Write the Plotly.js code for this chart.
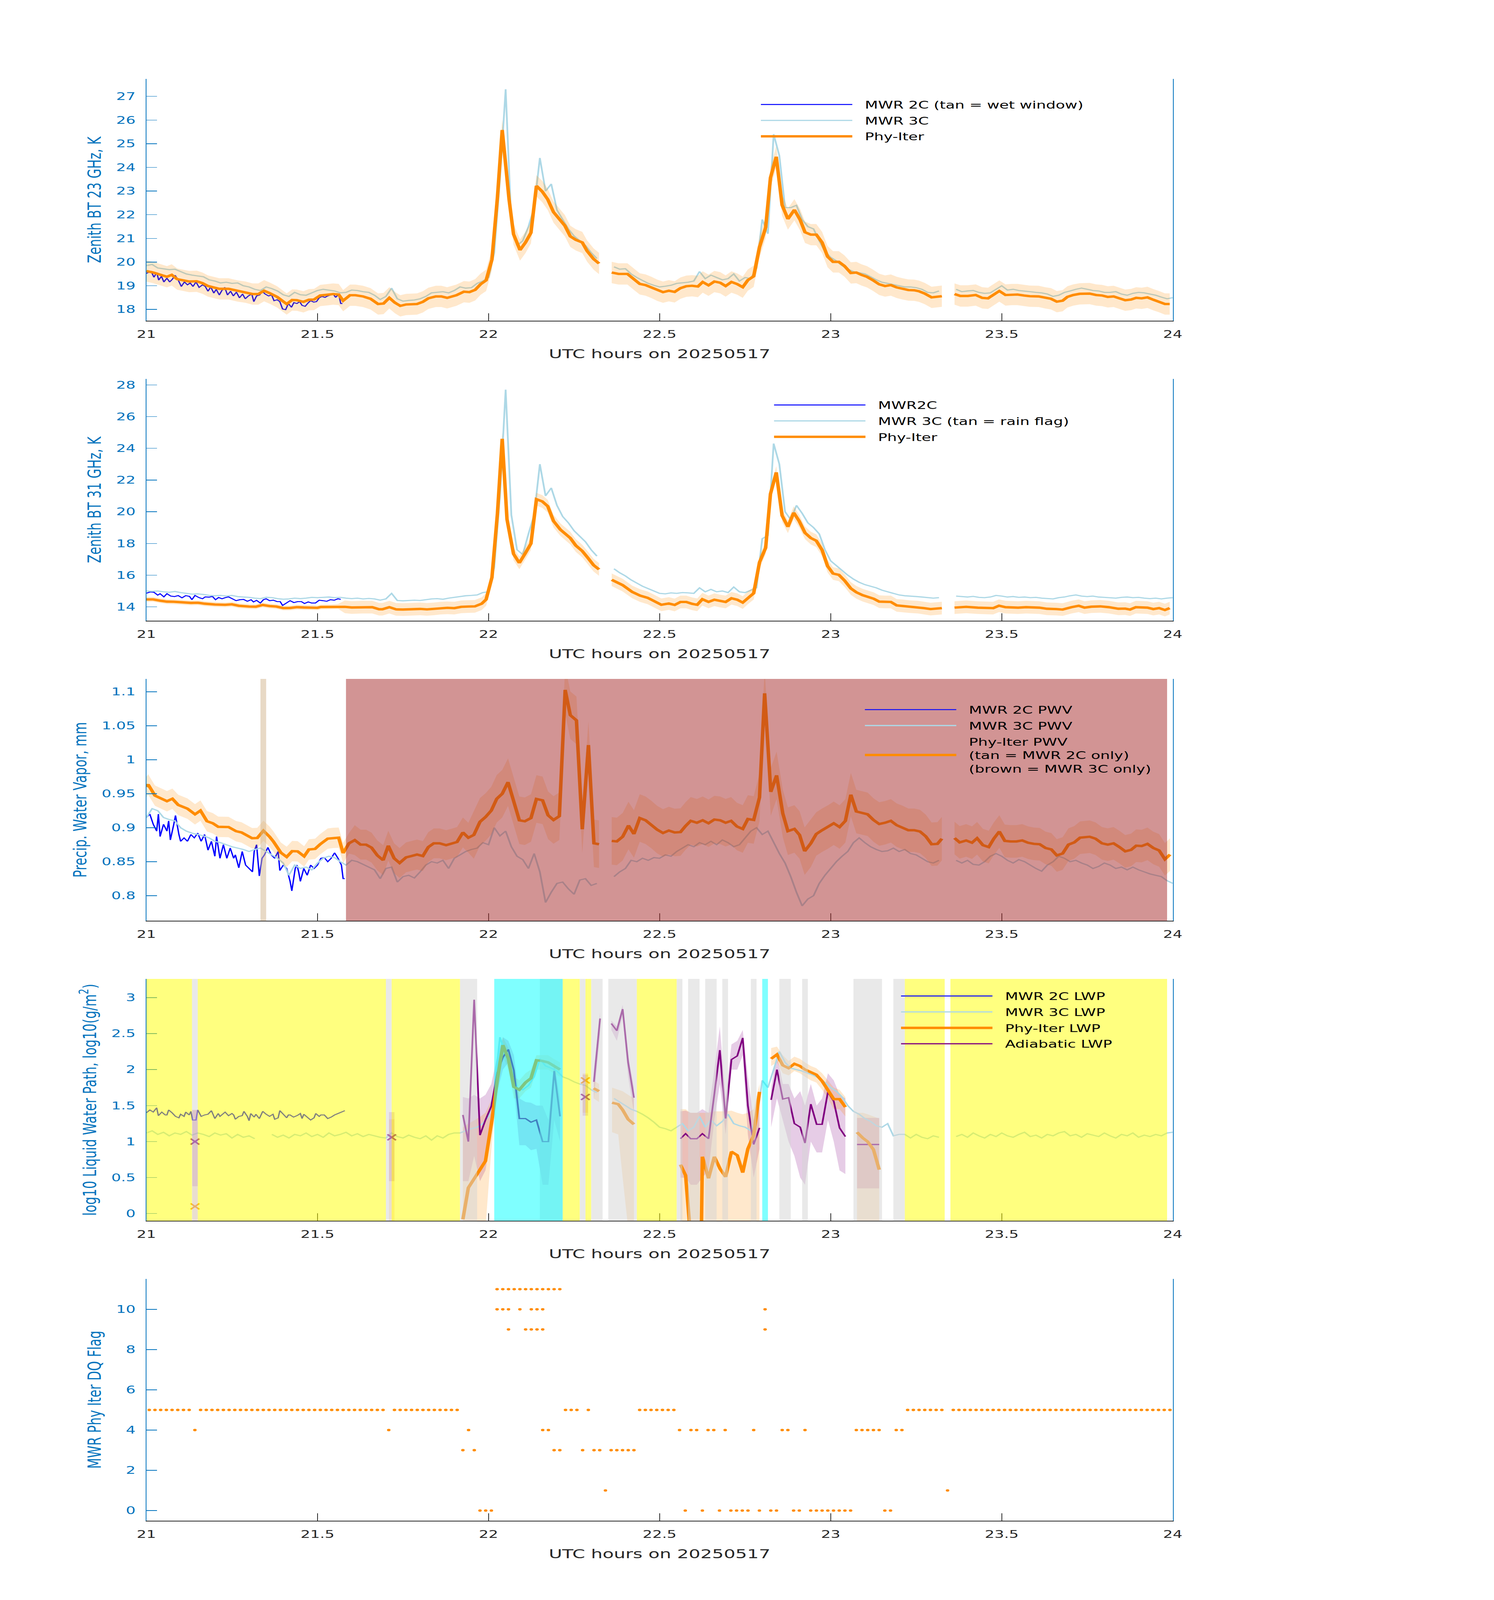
<!DOCTYPE html>
<html>
<head>
<meta charset="utf-8">
<script src="https://cdn.plot.ly/plotly-3.0.1.min.js"></script>
<style>
  html, body { margin: 0; background: #fff; overflow: hidden; }
  #plot { width: 3825px; height: 6000px; transform-origin: 0 0; }
</style>
</head>
<body>
<div id="plot"></div>
<script>
'use strict';

// ---- sampling grid for the 1-minute MWR 3C series (21:00 .. 24:00 UTC)
const minuteT = [];
for (let i = 0; i <= 180; i++) minuteT.push(21 + i / 60);

// ---- panel 1: zenith BT 23 GHz
const bt23TwoT = [21.0,21.005,21.014,21.022,21.03,21.036,21.044,21.051,21.06,21.068,21.076,21.084,21.093,21.102,21.111,21.12,21.128,21.136,21.145,21.154,21.164,21.172,21.18,21.188,21.197,21.204,21.213,21.221,21.229,21.237,21.246,21.254,21.263,21.272,21.281,21.289,21.298,21.308,21.314,21.322,21.331,21.338,21.347,21.357,21.366,21.373,21.382,21.39,21.398,21.407,21.415,21.424,21.431,21.44,21.448,21.455,21.464,21.473,21.48,21.489,21.497,21.505,21.513,21.522,21.53,21.538,21.546,21.553,21.562,21.568,21.573];
const bt23Two = [19.52,19.56,19.6,19.36,19.56,19.24,19.4,19.16,19.32,19.16,19.28,19.44,19.24,18.97,19.16,19.04,19.12,18.97,19.16,18.93,19.04,18.97,18.77,18.95,18.69,18.85,18.61,18.81,18.93,18.61,18.77,18.57,18.73,18.49,18.65,18.45,18.57,18.65,18.33,18.57,18.61,18.77,18.65,18.57,18.61,18.37,18.41,18.33,18.02,17.99,18.25,18.09,18.29,18.25,18.33,18.17,18.13,18.28,18.37,18.31,18.33,18.49,18.55,18.51,18.57,18.61,18.65,18.51,18.65,18.25,18.25];
const bt23Three = [
  19.85,19.9,19.75,19.72,19.68,19.7,19.6,19.5,19.45,19.42,
  19.38,19.25,19.2,19.12,19.15,19.1,19.12,19.0,18.95,18.85,
  18.8,18.95,18.88,18.78,18.62,18.55,18.72,18.62,18.6,18.7,
  18.8,18.85,18.82,18.78,18.7,18.72,18.82,18.8,18.75,18.72,
  18.6,18.42,18.55,18.9,18.45,18.35,18.38,18.4,18.45,18.55,
  18.7,18.72,18.75,18.7,18.8,18.95,18.9,18.92,19.1,19.2,
  19.35,20.4,23.5,27.3,21.6,20.7,20.9,21.5,22.3,24.4,
  23.0,23.3,22.2,21.8,21.4,21.1,20.9,20.7,20.4,20.15,
  null,null,19.8,19.7,19.72,19.5,19.35,19.22,19.1,19.02,
  18.95,18.98,19.02,19.1,19.12,19.15,19.2,19.6,19.3,19.45,
  19.35,19.25,19.3,19.5,19.2,19.35,19.3,19.75,21.8,21.2,
  25.4,24.5,22.3,22.3,22.4,21.8,21.5,21.4,20.9,20.45,
  20.2,20.05,19.85,19.7,19.6,19.55,19.5,19.38,19.25,19.15,
  19.1,19.05,19.0,18.95,18.95,18.92,18.85,18.72,18.7,18.78,
  null,null,18.85,18.75,18.78,18.8,18.72,18.68,18.7,18.85,
  19.0,18.82,18.85,18.8,18.78,18.75,18.72,18.7,18.65,18.55,
  18.6,18.72,18.78,18.85,18.9,18.85,18.8,18.78,18.72,18.72,
  18.75,18.65,18.6,18.68,18.72,18.7,18.65,18.6,18.52,18.45,
  18.5];
const bt23PhyT = [21.0,21.02,21.06,21.074,21.09,21.125,21.147,21.164,21.18,21.213,21.24,21.267,21.29,21.31,21.327,21.344,21.36,21.382,21.41,21.426,21.44,21.459,21.475,21.49,21.508,21.53,21.546,21.562,21.575,21.595,21.611,21.633,21.655,21.677,21.693,21.71,21.726,21.742,21.759,21.791,21.808,21.824,21.846,21.862,21.879,21.906,21.928,21.944,21.961,21.977,21.993,22.01,22.026,22.04,22.054,22.06,22.073,22.092,22.108,22.124,22.14,22.157,22.173,22.19,22.223,22.239,22.255,22.274,22.288,22.307,22.323,
  null,
  22.36,22.38,22.406,22.426,22.442,22.459,22.476,22.493,22.51,22.527,22.544,22.561,22.578,22.595,22.612,22.626,22.643,22.66,22.677,22.693,22.71,22.727,22.743,22.758,22.775,22.792,22.81,22.824,22.841,22.858,22.875,22.894,22.911,22.925,22.942,22.958,22.975,22.991,23.007,23.024,23.04,23.059,23.075,23.09,23.106,23.123,23.142,23.159,23.176,23.193,23.21,23.227,23.244,23.258,23.275,23.295,23.325,
  null,
  23.362,23.379,23.401,23.424,23.443,23.46,23.477,23.493,23.511,23.529,23.546,23.565,23.582,23.608,23.627,23.644,23.661,23.678,23.692,23.709,23.728,23.757,23.776,23.793,23.81,23.827,23.844,23.861,23.878,23.893,23.909,23.926,23.943,23.96,23.977,23.991];
const bt23Phy = [19.62,19.56,19.38,19.46,19.28,19.18,19.19,19.11,18.99,18.87,18.87,18.78,18.73,18.65,18.65,18.79,18.69,18.53,18.23,18.4,18.39,18.32,18.41,18.42,18.59,18.62,18.65,18.63,18.37,18.6,18.6,18.55,18.45,18.23,18.25,18.49,18.29,18.15,18.21,18.23,18.32,18.47,18.55,18.55,18.49,18.6,18.75,18.73,18.83,19.07,19.23,20.11,22.73,25.58,23.53,22.65,21.18,20.51,20.83,21.24,23.22,22.98,22.65,22.11,21.54,21.09,20.94,20.83,20.47,20.13,19.94,
  null,
  19.56,19.5,19.5,19.26,19.08,19.03,18.93,18.81,18.73,18.79,18.74,18.9,18.98,19.0,18.97,19.16,19.02,19.18,19.13,18.99,19.16,19.07,18.94,19.24,19.4,20.63,21.46,23.56,24.45,22.41,21.82,22.21,21.78,21.26,21.16,21.16,20.83,20.23,20.01,20.01,19.84,19.54,19.56,19.46,19.38,19.24,19.06,18.99,19.03,18.93,18.87,18.82,18.81,18.77,18.67,18.51,18.56,
  null,
  18.65,18.57,18.57,18.61,18.49,18.47,18.63,18.78,18.61,18.63,18.63,18.59,18.56,18.55,18.49,18.45,18.33,18.37,18.53,18.61,18.66,18.67,18.61,18.59,18.53,18.55,18.47,18.39,18.42,18.49,18.47,18.51,18.41,18.33,18.23,18.23];
const bt23ErrT = [21.0];
const bt23ErrV = [0.45];

// ---- panel 2: zenith BT 31 GHz
const bt31TwoT = [21.0,21.011,21.022,21.033,21.04,21.051,21.06,21.071,21.082,21.093,21.104,21.115,21.126,21.133,21.142,21.153,21.164,21.172,21.183,21.193,21.202,21.211,21.221,21.229,21.24,21.251,21.262,21.273,21.284,21.295,21.306,21.313,21.322,21.333,21.342,21.35,21.36,21.371,21.382,21.391,21.398,21.409,21.42,21.431,21.442,21.453,21.462,21.473,21.483,21.494,21.505,21.516,21.527,21.538,21.549,21.56,21.568];
const bt31Two = [14.86,14.94,14.92,14.74,14.83,14.63,14.83,14.68,14.65,14.71,14.57,14.71,14.66,14.45,14.72,14.59,14.51,14.63,14.61,14.66,14.45,14.59,14.51,14.57,14.63,14.51,14.39,14.45,14.47,14.35,14.45,14.31,14.41,14.24,14.45,14.51,14.39,14.42,14.33,14.33,14.09,14.24,14.39,14.27,14.33,14.33,14.21,14.31,14.24,14.24,14.42,14.39,14.35,14.45,14.42,14.51,14.47];
const bt31Three = [
  15.0,14.98,15.0,14.95,14.92,14.97,14.9,14.85,14.8,14.82,
  14.78,14.72,14.7,14.72,14.68,14.72,14.65,14.62,14.6,14.55,
  14.52,14.6,14.58,14.52,14.48,14.5,14.55,14.52,14.55,14.6,
  14.58,14.6,14.62,14.58,14.6,14.55,14.52,14.55,14.5,14.53,
  14.5,14.42,14.5,14.85,14.4,14.38,14.4,14.42,14.4,14.45,
  14.5,14.52,14.48,14.55,14.6,14.65,14.7,14.72,14.75,14.9,
  14.95,16.5,21.0,27.7,19.8,17.6,17.3,18.6,19.8,23.0,
  21.0,21.5,20.4,19.7,19.3,18.8,18.45,18.1,17.6,17.2,
  null,null,16.4,16.15,15.95,15.7,15.5,15.3,15.15,15.0,
  14.85,14.82,14.88,14.85,14.9,14.88,14.85,15.2,14.95,15.1,
  14.95,15.0,14.9,15.25,14.95,14.9,15.05,15.2,18.3,18.5,
  24.3,23.0,20.0,19.5,20.4,19.9,19.3,19.0,18.6,17.6,
  16.9,16.6,16.3,16.0,15.75,15.55,15.4,15.3,15.2,15.05,
  14.95,14.85,14.75,14.7,14.68,14.65,14.62,14.58,14.55,14.58,
  null,null,14.68,14.65,14.62,14.66,14.6,14.58,14.62,14.72,
  14.68,14.62,14.65,14.6,14.62,14.58,14.6,14.55,14.52,14.5,
  14.58,14.62,14.7,14.75,14.68,14.65,14.68,14.62,14.6,14.58,
  14.55,14.6,14.62,14.58,14.6,14.55,14.52,14.55,14.5,14.55,
  14.58];
const bt31PhyT = [21.0,21.02,21.04,21.06,21.08,21.1,21.13,21.15,21.17,21.2,21.23,21.25,21.27,21.3,21.32,21.34,21.36,21.38,21.4,21.42,21.44,21.46,21.48,21.5,21.51,21.54,21.56,21.58,21.6,21.63,21.66,21.68,21.69,21.71,21.73,21.75,21.78,21.8,21.82,21.84,21.86,21.88,21.9,21.92,21.94,21.96,21.98,21.993,22.01,22.026,22.04,22.054,22.073,22.09,22.108,22.124,22.14,22.157,22.173,22.19,22.21,22.239,22.255,22.274,22.29,22.307,22.323,
  null,
  22.36,22.392,22.42,22.443,22.465,22.482,22.505,22.527,22.544,22.561,22.578,22.595,22.61,22.625,22.643,22.66,22.676,22.693,22.71,22.727,22.743,22.758,22.775,22.792,22.81,22.824,22.841,22.858,22.875,22.892,22.908,22.925,22.942,22.958,22.975,22.991,23.007,23.024,23.041,23.059,23.075,23.093,23.109,23.126,23.142,23.159,23.176,23.193,23.21,23.232,23.255,23.272,23.292,23.325,
  null,
  23.362,23.396,23.43,23.475,23.492,23.511,23.548,23.571,23.61,23.632,23.66,23.678,23.704,23.725,23.742,23.762,23.788,23.813,23.841,23.861,23.875,23.892,23.926,23.943,23.96,23.977,23.991];
const bt31Phy = [14.47,14.47,14.39,14.33,14.32,14.29,14.25,14.26,14.2,14.15,14.13,14.16,14.07,14.02,14.01,14.12,14.05,14.02,13.92,13.93,13.98,13.96,13.96,13.94,13.99,14.0,14.03,14.0,13.96,13.98,13.98,13.85,13.85,13.98,13.84,13.83,13.85,13.87,13.84,13.87,13.92,13.94,13.92,14.0,14.02,14.03,14.2,14.47,15.86,19.88,24.6,19.52,17.34,16.77,17.4,17.99,20.79,20.65,20.35,19.41,18.87,18.34,17.87,17.52,17.1,16.63,16.36,
  null,
  15.71,15.37,14.94,14.71,14.57,14.39,14.13,14.21,14.12,14.31,14.31,14.19,14.13,14.48,14.31,14.45,14.37,14.31,14.54,14.45,14.27,14.57,14.86,16.81,17.72,21.12,22.48,19.76,19.05,19.94,19.41,18.67,18.34,18.17,17.58,16.57,16.1,16.02,15.65,15.16,14.92,14.74,14.63,14.51,14.33,14.31,14.31,14.09,14.06,14.01,13.98,13.92,13.86,13.92,
  null,
  13.95,14.0,13.95,13.92,14.07,13.98,13.95,13.98,13.95,13.88,13.86,13.83,13.98,14.07,13.95,14.01,14.03,13.98,13.88,13.89,13.83,13.98,13.95,13.86,13.92,13.8,13.92];
const bt31ErrT = [21.0, 21.58];
const bt31ErrV = [0.15, 0.4];

// ---- panel 3: precipitable water vapour
const pwvTwoT = [21.0,21.01,21.02,21.03,21.035,21.04,21.05,21.06,21.065,21.07,21.08,21.085,21.095,21.1,21.11,21.12,21.13,21.14,21.15,21.16,21.17,21.18,21.19,21.2,21.205,21.215,21.225,21.235,21.245,21.255,21.26,21.27,21.28,21.29,21.3,21.31,21.315,21.322,21.33,21.338,21.345,21.355,21.365,21.375,21.385,21.39,21.4,21.41,21.42,21.425,21.435,21.44,21.445,21.45,21.46,21.47,21.48,21.49,21.5,21.51,21.52,21.53,21.54,21.55,21.56,21.57,21.575,21.58];
const pwvTwo = [0.915,0.92,0.905,0.895,0.92,0.887,0.905,0.895,0.91,0.882,0.905,0.918,0.89,0.88,0.885,0.88,0.89,0.885,0.892,0.88,0.89,0.867,0.88,0.858,0.887,0.855,0.875,0.855,0.87,0.855,0.86,0.841,0.865,0.845,0.84,0.835,0.865,0.875,0.829,0.855,0.86,0.871,0.86,0.855,0.865,0.837,0.845,0.84,0.821,0.807,0.84,0.845,0.835,0.821,0.84,0.83,0.845,0.84,0.845,0.855,0.856,0.85,0.855,0.863,0.855,0.845,0.825,0.825];
const pwvThree = [
  0.915,0.928,0.925,0.915,0.912,0.91,0.9,0.895,0.892,0.89,
  0.888,0.885,0.88,0.878,0.875,0.872,0.87,0.868,0.865,0.868,
  0.87,0.865,0.86,0.855,0.848,0.83,0.845,0.84,0.842,0.838,
  0.848,0.855,0.858,0.856,0.85,0.845,0.852,0.85,0.846,0.842,
  0.838,0.825,0.84,0.842,0.82,0.828,0.83,0.826,0.835,0.845,
  0.85,0.848,0.852,0.84,0.855,0.86,0.865,0.868,0.87,0.878,
  0.875,0.9,0.888,0.895,0.872,0.858,0.853,0.84,0.862,0.835,
  0.79,0.805,0.818,0.82,0.81,0.802,0.823,0.825,0.815,0.818,
  null,null,0.828,0.835,0.84,0.852,0.85,0.855,0.852,0.856,
  0.855,0.86,0.858,0.865,0.87,0.875,0.872,0.878,0.875,0.88,
  0.875,0.882,0.878,0.872,0.875,0.885,0.895,0.9,0.89,0.895,
  0.878,0.862,0.848,0.828,0.805,0.785,0.795,0.8,0.818,0.83,
  0.84,0.85,0.858,0.865,0.878,0.885,0.878,0.872,0.868,0.865,
  0.866,0.87,0.865,0.868,0.862,0.86,0.855,0.85,0.848,0.852,
  null,null,0.852,0.848,0.852,0.846,0.845,0.85,0.858,0.862,
  0.858,0.852,0.848,0.853,0.85,0.845,0.84,0.836,0.845,0.85,
  0.858,0.855,0.85,0.852,0.848,0.845,0.84,0.843,0.848,0.845,
  0.84,0.842,0.838,0.842,0.838,0.835,0.832,0.83,0.828,0.822,
  0.818];
const pwvPhyT = [21.0,21.005,21.025,21.06,21.076,21.093,21.12,21.142,21.158,21.177,21.194,21.21,21.24,21.262,21.278,21.309,21.324,21.342,21.36,21.371,21.393,21.41,21.426,21.442,21.461,21.475,21.493,21.508,21.53,21.546,21.562,21.575,21.592,21.609,21.626,21.642,21.658,21.675,21.692,21.707,21.724,21.74,21.759,21.775,21.791,21.808,21.824,21.84,21.857,21.876,21.89,21.908,21.925,21.941,21.957,21.975,21.991,22.008,22.024,22.04,22.057,22.073,22.09,22.106,22.124,22.14,22.158,22.174,22.19,22.207,22.224,22.239,22.257,22.274,22.292,22.308,22.323,
  null,
  22.36,22.375,22.392,22.409,22.425,22.442,22.459,22.476,22.493,22.51,22.527,22.544,22.561,22.576,22.591,22.609,22.626,22.643,22.66,22.677,22.693,22.709,22.726,22.743,22.758,22.775,22.792,22.807,22.825,22.842,22.86,22.875,22.894,22.909,22.924,22.942,22.958,22.975,22.992,23.009,23.026,23.043,23.059,23.075,23.091,23.108,23.125,23.142,23.159,23.176,23.193,23.21,23.227,23.244,23.261,23.278,23.295,23.312,23.325,
  null,
  23.362,23.377,23.396,23.413,23.428,23.445,23.462,23.477,23.493,23.509,23.526,23.543,23.56,23.577,23.594,23.611,23.628,23.645,23.661,23.678,23.695,23.712,23.729,23.757,23.774,23.793,23.81,23.827,23.844,23.861,23.878,23.893,23.909,23.926,23.943,23.96,23.977,23.992];
const pwvPhy = [0.96,0.9637,0.9472,0.939,0.9426,0.9335,0.928,0.9197,0.9252,0.9095,0.9065,0.9013,0.901,0.8949,0.893,0.8845,0.8848,0.8955,0.8867,0.8798,0.8633,0.857,0.8655,0.8652,0.8578,0.868,0.8688,0.8757,0.8839,0.885,0.8853,0.8627,0.877,0.8817,0.8751,0.8751,0.8707,0.8592,0.8523,0.8735,0.855,0.8481,0.8564,0.8583,0.8605,0.8583,0.8715,0.877,0.877,0.8743,0.8762,0.879,0.893,0.8853,0.8894,0.9087,0.9156,0.9252,0.9426,0.95,0.967,0.9403,0.9109,0.9095,0.9142,0.9423,0.9403,0.9183,0.9114,0.917,1.1028,1.0656,1.0579,0.8977,1.0216,0.877,0.8757,
  null,
  0.8806,0.8798,0.8867,0.9032,0.8908,0.9142,0.9109,0.9046,0.8971,0.8922,0.8958,0.893,0.8936,0.9026,0.9101,0.9073,0.9109,0.9065,0.912,0.9109,0.9073,0.9101,0.9018,0.8982,0.9128,0.9114,0.9445,1.0978,0.9527,0.977,0.9211,0.8949,0.8982,0.8894,0.8655,0.877,0.8908,0.8963,0.901,0.9065,0.901,0.9101,0.9486,0.9238,0.9219,0.9197,0.9114,0.9054,0.9073,0.9101,0.9037,0.9004,0.8963,0.8963,0.8944,0.8872,0.8757,0.8762,0.8839,
  null,
  0.8848,0.8784,0.8812,0.8779,0.8845,0.8743,0.8715,0.8839,0.8944,0.8806,0.8798,0.8798,0.8812,0.8779,0.8762,0.8757,0.8702,0.868,0.8592,0.862,0.8751,0.8784,0.8853,0.8867,0.8839,0.877,0.8751,0.877,0.8715,0.8652,0.8674,0.8735,0.873,0.8762,0.8702,0.8666,0.8536,0.8605];
const pwvErrT = [21.0, 21.6, 21.95, 22.95, 23.35];
const pwvErrV = [0.015, 0.022, 0.035, 0.032, 0.024];
// flagged periods, minutes after 21:00 UTC
const pwvTanSpans = [[20, 21]];
const pwvBrownSpans = [[35, 179]];

// ---- panel 4: liquid water path (log10)
const lwpTwoT = [21.0,21.01,21.02,21.03,21.035,21.045,21.055,21.06,21.065,21.075,21.085,21.095,21.1,21.11,21.115,21.125,21.13,21.135,21.145,21.15,21.16,21.17,21.18,21.19,21.2,21.21,21.215,21.225,21.23,21.24,21.25,21.255,21.26,21.27,21.28,21.285,21.295,21.3,21.305,21.315,21.32,21.33,21.34,21.35,21.36,21.37,21.375,21.385,21.39,21.4,21.41,21.415,21.42,21.43,21.44,21.45,21.455,21.46,21.47,21.48,21.49,21.495,21.505,21.51,21.52,21.53,21.54,21.55,21.56,21.57,21.58];
const lwpTwo = [1.4,1.44,1.41,1.47,1.36,1.41,1.37,1.37,1.44,1.4,1.35,1.33,1.38,1.35,1.41,1.37,1.42,1.3,1.3,1.44,1.35,1.37,1.38,1.43,1.32,1.39,1.35,1.39,1.41,1.36,1.39,1.37,1.31,1.35,1.36,1.42,1.35,1.29,1.39,1.34,1.38,1.32,1.42,1.38,1.35,1.38,1.31,1.33,1.43,1.38,1.33,1.37,1.37,1.34,1.36,1.39,1.32,1.38,1.34,1.3,1.33,1.39,1.35,1.37,1.37,1.32,1.34,1.37,1.39,1.41,1.43];
const lwpThree = [
  1.12,1.15,1.1,1.13,1.08,1.12,1.1,1.14,1.09,1.12,
  1.1,1.07,1.12,1.09,1.11,1.05,1.1,1.06,1.08,1.04,
  null,null,1.1,1.06,1.09,1.05,1.1,1.08,1.12,1.07,
  1.1,1.06,1.12,1.08,1.1,1.13,1.08,1.11,1.07,1.1,
  1.08,1.06,1.05,1.12,1.07,1.05,1.09,1.06,1.04,1.08,
  1.02,1.08,1.05,1.1,1.12,1.12,1.15,1.18,1.2,1.25,
  1.35,1.7,2.45,2.2,2.0,1.75,1.72,1.78,1.9,2.15,
  2.05,2.02,1.98,1.9,1.87,1.83,1.8,1.78,1.72,1.68,
  null,null,1.6,1.55,1.5,1.45,1.42,1.38,1.33,1.27,
  1.2,1.18,1.15,1.2,1.25,1.15,1.2,1.35,1.2,1.3,
  1.22,1.28,1.38,1.25,1.22,1.2,1.15,1.3,1.85,1.75,
  2.0,2.25,2.1,2.02,2.0,1.98,1.95,1.92,1.88,1.82,
  1.75,1.7,1.62,1.5,1.42,1.38,1.32,1.28,1.22,1.2,
  1.25,1.08,1.1,1.1,1.05,1.1,1.06,1.04,1.08,1.06,
  null,null,1.07,1.1,1.06,1.12,1.08,1.05,1.1,1.07,
  1.12,1.08,1.06,1.1,1.13,1.07,1.09,1.05,1.1,1.08,
  1.12,1.14,1.08,1.1,1.06,1.11,1.09,1.07,1.12,1.08,
  1.05,1.1,1.08,1.12,1.06,1.09,1.07,1.1,1.08,1.12,
  1.13];
const lwpPhyT = [21.925,21.941,21.96,21.977,21.991,22.01,22.026,22.042,22.058,22.074,22.09,22.108,22.124,22.14,22.157,22.174,22.19,22.209,null,22.307,22.323,null,22.361,22.379,22.392,22.408,22.425,null,22.561,22.576,22.59,22.622,22.625,22.643,22.66,22.677,22.693,22.71,22.727,22.743,22.758,22.775,22.792,null,22.826,22.843,22.86,22.877,22.894,22.91,22.925,22.942,22.958,22.975,22.992,23.009,23.026,23.043,null,23.077,23.094,23.108,23.125,23.142];
const lwpPhy = [-0.08,0.36,0.5,0.62,0.73,1.3,1.87,2.34,2.15,1.76,1.72,1.82,1.88,2.13,2.12,2.1,2.05,2.0,null,1.74,1.7,null,1.54,1.52,1.44,1.31,1.24,null,0.68,0.53,-0.3,-0.3,0.79,0.49,0.79,0.62,0.51,0.86,0.81,0.57,0.9,1.09,1.69,null,2.15,2.21,2.06,2.02,2.08,2.05,2.0,1.96,1.93,1.84,1.71,1.59,1.59,1.48,null,1.13,1.05,1.0,0.89,0.61];
const lwpPhyLo = [-0.2,-0.2,-0.2,-0.2,-0.2,1.0,1.7,2.2,2.0,1.6,1.6,1.7,1.75,2.0,2.0,2.0,1.95,1.9,null,1.6,1.55,null,1.13,1.1,0.5,-0.2,-0.2,null,-0.2,-0.2,-0.2,-0.2,-0.2,-0.2,-0.2,-0.2,-0.2,-0.2,-0.2,-0.2,-0.2,-0.2,-0.2,null,2.05,2.1,1.95,1.92,1.98,1.95,1.9,1.85,1.82,1.72,1.6,1.45,1.45,1.35,null,-0.2,-0.2,-0.2,-0.2,-0.2];
const lwpPhyHi = [1.2,1.25,1.3,1.35,1.4,1.6,2.05,2.45,2.3,1.9,1.85,1.95,2.0,2.2,2.2,2.2,2.15,2.1,null,1.85,1.8,null,1.75,1.72,1.7,1.65,1.6,null,1.45,1.45,1.4,1.4,1.4,1.4,1.42,1.42,1.42,1.43,1.4,1.38,1.4,1.45,1.8,null,2.3,2.32,2.2,2.12,2.18,2.15,2.1,2.05,2.02,1.95,1.85,1.75,1.72,1.62,null,1.4,1.4,1.38,1.35,1.32];
const lwpAdiT = [21.925,21.941,21.958,21.975,21.991,22.008,22.026,22.042,22.058,22.074,22.09,22.108,22.124,22.14,22.158,22.175,22.192,22.209,null,22.308,22.326,null,22.359,22.375,22.392,22.408,22.425,null,22.561,22.576,22.591,22.609,22.625,22.643,22.66,22.676,22.693,22.71,22.727,22.743,22.758,22.775,22.792,null,22.826,22.843,22.86,22.877,22.894,22.911,22.925,22.942,22.959,22.975,22.992,23.009,23.026,23.043,null,23.077,23.142];
const lwpAdi = [1.37,1.0,2.97,1.09,1.3,1.49,1.96,2.17,2.28,1.99,1.32,1.32,1.27,1.3,1.0,1.0,1.98,1.35,null,1.83,2.71,null,2.64,2.54,2.84,2.1,1.61,null,1.04,1.11,1.04,1.04,1.11,1.04,1.66,2.27,1.32,2.14,2.19,2.44,1.5,0.96,1.19,null,1.58,2.0,1.59,1.61,1.25,1.2,0.98,1.52,1.24,1.24,1.69,1.56,1.19,1.07,null,0.96,0.96];
const lwpAdiLo = [0.45,0.45,0.8,0.45,0.6,1.1,1.7,2.0,2.1,1.75,0.95,0.95,0.88,0.9,0.4,0.4,1.3,1.0,null,1.6,2.5,null,2.55,2.4,2.75,1.9,1.4,null,0.5,0.5,0.4,0.4,0.5,0.6,1.3,1.8,1.1,2.0,2.0,2.2,1.1,0.5,0.9,null,1.2,1.6,1.3,1.0,0.8,0.5,0.4,1.0,0.85,0.85,1.3,1.0,0.6,0.55,null,0.35,0.35];
const lwpAdiHi = [1.62,1.6,1.65,1.6,1.65,1.8,2.2,2.45,2.4,2.2,1.6,1.55,1.54,1.5,1.5,1.3,2.1,1.6,null,2.0,2.8,null,2.68,2.6,2.9,2.2,1.75,null,1.42,1.43,1.4,1.4,1.45,1.4,2.0,2.6,1.6,2.35,2.4,2.55,1.9,1.3,1.5,null,1.75,2.2,1.8,1.8,1.6,1.7,1.5,1.8,1.5,1.6,1.95,1.85,1.65,1.6,null,1.33,1.33];
// single retrievals surrounded by flagged minutes
const lwpPhyIsoT = [21.142, 21.717, 22.283];
const lwpPhyIso = [0.1, -0.3, 1.85];
const lwpPhyIsoLo = [-0.2, -0.2, 1.4];
const lwpPhyIsoHi = [1.44, 1.31, 1.95];
const lwpAdiIsoT = [21.142, 21.717, 22.283];
const lwpAdiIso = [1.0, 1.06, 1.62];
const lwpAdiIsoLo = [0.38, 0.45, 1.36];
const lwpAdiIsoHi = [1.44, 1.41, 1.93];
// shaded DQ periods, minutes after 21:00 UTC
const lwpYellowSpans = [[0,8],[9,42],[43,55],[73,76],[77,78],[86,93],[133,140],[141,179]];
const lwpGraySpans = [[8,9],[42,43],[55,58],[69,73],[76,77],[78,80],[81,86],[93,94],[95,97],[98,100],[101,102],[106,107],[111,113],[115,116],[124,129],[131,133]];
const lwpCyanSpans = [[61,73],[108,109]];

// ---- panel 5: Phy-Iter DQ flag, runs of [first minute, last minute, flag]
const dqRuns = [[0,7,5],[8,8,4],[9,41,5],[42,42,4],[43,54,5],[55,55,3],[56,56,4],[57,57,3],[58,60,0],
  [61,72,11],[61,63,10],[65,65,10],[67,69,10],[63,63,9],[66,69,9],[69,70,4],[71,72,3],
  [73,75,5],[76,76,3],[77,77,5],[78,79,3],[80,80,1],[81,85,3],[86,92,5],[93,93,4],[94,94,0],
  [95,96,4],[97,97,0],[98,99,4],[100,100,0],[101,101,4],[102,105,0],[106,106,4],[107,107,0],
  [108,108,10],[108,108,9],[109,110,0],[111,112,4],[113,114,0],[115,115,4],[116,123,0],
  [124,128,4],[129,130,0],[131,132,4],[133,139,5],[140,140,1],[141,179,5]];

// ---- styling
const FONT = 'DejaVu Sans, sans-serif';
const AXBLUE = '#0072BD';
const INK = '#262626';
const C2 = '#0000FF', C3 = '#ADD8E6', CPHY = '#FF8C00', CADI = '#800080';
const BAND = 'rgba(255,140,0,0.2)', ADIBAND = 'rgba(128,0,128,0.2)';
const GAP = '\u2002\u2009'; // space between legend line and its text
const xDomain = [0.098, 0.785];
const yDomains = [[0.7995, 0.9507], [0.612, 0.7632], [0.4245, 0.5757], [0.237, 0.3882], [0.0495, 0.2008]];

function axId(n) { return n === 1 ? '' : String(n); }

function stepErr(t, y, errT, errV) {
  const lo = [], hi = [];
  for (let i = 0; i < t.length; i++) {
    if (t[i] === null || y[i] === null) { lo.push(null); hi.push(null); continue; }
    let e = errV[0];
    for (let j = 0; j < errT.length; j++) if (t[i] >= errT[j]) e = errV[j];
    lo.push(y[i] - e); hi.push(y[i] + e);
  }
  return [lo, hi];
}

function bandTraces(t, lo, hi, color, n) {
  const out = [];
  let xs = [], up = [], dn = [];
  function flush() {
    if (xs.length > 1) {
      out.push({
        type: 'scatter', mode: 'lines', x: xs.concat(xs.slice().reverse()),
        y: up.concat(dn.slice().reverse()), fill: 'toself', fillcolor: color,
        line: {width: 0, color: 'rgba(0,0,0,0)'}, hoverinfo: 'skip', showlegend: false,
        xaxis: 'x' + axId(n), yaxis: 'y' + axId(n)
      });
    }
    xs = []; up = []; dn = [];
  }
  for (let i = 0; i < t.length; i++) {
    if (t[i] === null || lo[i] === null) { flush(); continue; }
    xs.push(t[i]); up.push(hi[i]); dn.push(lo[i]);
  }
  flush();
  return out;
}

function line(x, y, color, width, n, name, legend, rank) {
  const tr = {
    type: 'scatter', mode: 'lines', x: x, y: y, line: {color: color, width: width},
    xaxis: 'x' + axId(n), yaxis: 'y' + axId(n), showlegend: false, hoverinfo: 'skip'
  };
  if (name) {
    tr.name = name.split('<br>').map(function (s) { return GAP + s; }).join('<br>');
    tr.showlegend = true; tr.legend = legend;
    tr.legendgroup = legend + rank; tr.legendrank = rank;
  }
  return tr;
}

function spanShapes(spans, color, n) {
  return spans.map(function (s) {
    return {
      type: 'rect', xref: 'x' + axId(n), yref: 'y' + axId(n) + ' domain',
      x0: 21 + s[0] / 60, x1: 21 + s[1] / 60, y0: 0, y1: 1,
      fillcolor: color, line: {width: 0}, layer: 'above'
    };
  });
}

const traces = [];

// panel 1
let lh = stepErr(bt23PhyT, bt23Phy, bt23ErrT, bt23ErrV);
traces.push(line(bt23TwoT, bt23Two, C2, 3.5, 1, 'MWR 2C (tan = wet window)', 'legend', 1));
traces.push(line(minuteT, bt23Three, C3, 4.5, 1, 'MWR 3C', 'legend', 2));
traces.push(...bandTraces(bt23PhyT, lh[0], lh[1], BAND, 1));
traces.push(line(bt23PhyT, bt23Phy, CPHY, 9, 1, 'Phy-Iter', 'legend', 3));

// panel 2
lh = stepErr(bt31PhyT, bt31Phy, bt31ErrT, bt31ErrV);
traces.push(line(bt31TwoT, bt31Two, C2, 3.5, 2, 'MWR2C', 'legend2', 1));
traces.push(line(minuteT, bt31Three, C3, 4.5, 2, 'MWR 3C (tan = rain flag)', 'legend2', 2));
traces.push(...bandTraces(bt31PhyT, lh[0], lh[1], BAND, 2));
traces.push(line(bt31PhyT, bt31Phy, CPHY, 9, 2, 'Phy-Iter', 'legend2', 3));

// panel 3
lh = stepErr(pwvPhyT, pwvPhy, pwvErrT, pwvErrV);
traces.push(line(pwvTwoT, pwvTwo, C2, 3.5, 3, 'MWR 2C PWV', 'legend3', 1));
traces.push(line(minuteT, pwvThree, C3, 4.5, 3, 'MWR 3C PWV', 'legend3', 2));
traces.push(...bandTraces(pwvPhyT, lh[0], lh[1], BAND, 3));
traces.push(line(pwvPhyT, pwvPhy, CPHY, 9, 3,
  'Phy-Iter PWV<br>(tan = MWR 2C only)<br>(brown = MWR 3C only)', 'legend3', 3));

// panel 4
traces.push(...bandTraces(lwpAdiT, lwpAdiLo, lwpAdiHi, ADIBAND, 4));
traces.push(...bandTraces(lwpPhyT, lwpPhyLo, lwpPhyHi, BAND, 4));
traces.push(line(lwpTwoT, lwpTwo, C2, 3.5, 4, 'MWR 2C LWP', 'legend4', 1));
traces.push(line(minuteT, lwpThree, C3, 4.5, 4, 'MWR 3C LWP', 'legend4', 2));
traces.push(line(lwpAdiT, lwpAdi, CADI, 4.5, 4, 'Adiabatic LWP', 'legend4', 4));
traces.push(line(lwpPhyT, lwpPhy, CPHY, 9, 4, 'Phy-Iter LWP', 'legend4', 3));

function isoTrace(t, y, lo, hi, color, barColor) {
  return {
    type: 'scatter', mode: 'markers', x: t, y: y, xaxis: 'x4', yaxis: 'y4',
    showlegend: false, hoverinfo: 'skip',
    marker: {symbol: 'x-thin', size: 22, line: {color: color, width: 5}},
    error_y: {
      type: 'data', symmetric: false,
      array: hi.map(function (v, i) { return v - y[i]; }),
      arrayminus: lo.map(function (v, i) { return y[i] - v; }),
      color: barColor, thickness: 14, width: 0
    }
  };
}
traces.push(isoTrace(lwpPhyIsoT, lwpPhyIso, lwpPhyIsoLo, lwpPhyIsoHi, CPHY, BAND));
traces.push(isoTrace(lwpAdiIsoT, lwpAdiIso, lwpAdiIsoLo, lwpAdiIsoHi, CADI, ADIBAND));

// panel 5: expand the flag runs into one point per minute
const dqT = [], dqV = [];
dqRuns.forEach(function (r) {
  for (let k = r[0]; k <= r[1]; k++) { dqT.push(21 + (k + 0.5) / 60); dqV.push(r[2]); }
});
traces.push({
  type: 'scatter', mode: 'markers', x: dqT, y: dqV, xaxis: 'x5', yaxis: 'y5',
  marker: {color: CPHY, size: 9}, showlegend: false, hoverinfo: 'skip'
});

// axes
const yConf = [
  {title: 'Zenith BT 23 GHz, K', range: [17.52, 27.74],
   vals: [18,19,20,21,22,23,24,25,26,27]},
  {title: 'Zenith BT 31 GHz, K', range: [13.12, 28.38],
   vals: [14,16,18,20,22,24,26,28]},
  {title: 'Precip. Water Vapor, mm', range: [0.763, 1.119],
   vals: [0.8,0.85,0.9,0.95,1,1.05,1.1], text: ['0.8','0.85','0.9','0.95','1','1.05','1.1']},
  {title: 'log10 Liquid Water Path, log10(g/m<sup>2</sup>)', range: [-0.1, 3.26],
   vals: [0,0.5,1,1.5,2,2.5,3], text: ['0','0.5','1','1.5','2','2.5','3']},
  {title: 'MWR Phy Iter DQ Flag', range: [-0.51, 11.52],
   vals: [0,2,4,6,8,10]}
];

const layout = {
  width: 3825, height: 6000,
  margin: {l: 0, r: 0, t: 0, b: 0},
  paper_bgcolor: '#FFFFFF', plot_bgcolor: '#FFFFFF',
  font: {family: FONT, size: 39, color: INK},
  shapes: [].concat(
    spanShapes(pwvTanSpans, 'rgba(210,180,140,0.5)', 3),
    spanShapes(pwvBrownSpans, 'rgba(165,42,42,0.5)', 3),
    spanShapes(lwpYellowSpans, 'rgba(255,255,0,0.5)', 4),
    spanShapes(lwpGraySpans, 'rgba(211,211,211,0.5)', 4),
    spanShapes(lwpCyanSpans, 'rgba(0,255,255,0.5)', 4)
  )
};

for (let n = 1; n <= 5; n++) {
  const c = yConf[n - 1];
  layout['xaxis' + axId(n)] = {
    domain: xDomain, anchor: 'y' + axId(n), range: [21, 24],
    tickvals: [21, 21.5, 22, 22.5, 23, 23.5, 24], ticktext: ['21','21.5','22','22.5','23','23.5','24'],
    ticks: 'inside', ticklen: 28, tickwidth: 2, tickcolor: INK,
    showline: true, linecolor: INK, linewidth: 2, showgrid: false, zeroline: false,
    tickfont: {family: FONT, size: 39, color: INK}, ticklabelstandoff: 16,
    title: {text: 'UTC hours on 20250517', font: {family: FONT, size: 47, color: INK}, standoff: 34}
  };
  layout['yaxis' + axId(n)] = {
    domain: yDomains[n - 1], anchor: 'x' + axId(n), range: c.range,
    tickvals: c.vals, ticktext: c.text || c.vals.map(String),
    ticks: 'inside', ticklen: 27, tickwidth: 2, tickcolor: AXBLUE,
    showline: true, linecolor: AXBLUE, linewidth: 2, mirror: true,
    showgrid: false, zeroline: false,
    tickfont: {family: FONT, size: 39, color: AXBLUE}, ticklabelstandoff: 18,
    title: {text: c.title, font: {family: FONT, size: 47, color: AXBLUE}, standoff: 24}
  };
}

function legendAt(x, y) {
  return {
    x: x, y: y, xanchor: 'left', yanchor: 'top', bgcolor: 'rgba(0,0,0,0)', borderwidth: 0,
    font: {family: FONT, size: 39, color: '#000000'}, itemwidth: 234,
    traceorder: 'grouped', tracegroupgap: 6, itemclick: false, itemdoubleclick: false
  };
}
layout.legend = legendAt(0.5080, 0.9400);
layout.legend2 = legendAt(0.5168, 0.7522);
layout.legend3 = legendAt(0.5776, 0.5618);
layout.legend4 = legendAt(0.6018, 0.3828);

const config = {displayModeBar: false, staticPlot: true};

// The figure is laid out at 3825 x 6000. If the window is smaller than that,
// scale the drawn figure so that the whole of it stays in view.
const plotDiv = document.getElementById('plot');
const sx = Math.min(1, (window.innerWidth || 3825) / 3825);
const sy = Math.min(1, (window.innerHeight || 6000) / 6000);
if (sx < 1 || sy < 1) plotDiv.style.transform = 'scale(' + sx + ',' + sy + ')';

Plotly.newPlot(plotDiv, traces, layout, config);
</script>
</body>
</html>
